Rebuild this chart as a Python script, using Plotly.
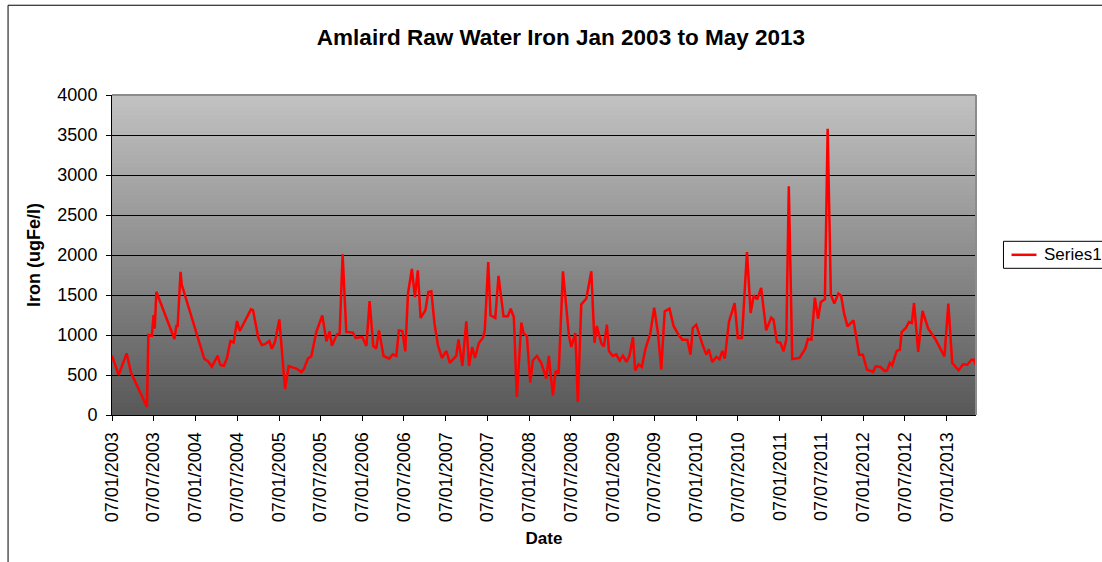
import plotly.graph_objects as go

# ---- data ----
dates = [
    "2003-01-07", "2003-02-05", "2003-03-12", "2003-03-31", "2003-06-09", "2003-06-15",
    "2003-06-30", "2003-07-08", "2003-07-13", "2003-07-20", "2003-10-07", "2003-10-16",
    "2003-10-21", "2003-11-03", "2003-11-08", "2004-02-15", "2004-03-01", "2004-03-19",
    "2004-04-13", "2004-04-25", "2004-05-10", "2004-05-24", "2004-06-08", "2004-06-22",
    "2004-07-07", "2004-07-19", "2004-09-06", "2004-09-15", "2004-10-08", "2004-10-23",
    "2004-11-06", "2004-11-25", "2004-12-06", "2004-12-20", "2005-01-08", "2005-02-02",
    "2005-02-18", "2005-03-24", "2005-04-14", "2005-04-25", "2005-05-13", "2005-05-28",
    "2005-06-19", "2005-07-15", "2005-08-02", "2005-08-16", "2005-08-26", "2005-09-17",
    "2005-09-29", "2005-10-12", "2005-10-28", "2005-11-26", "2005-12-08", "2006-01-06",
    "2006-01-24", "2006-02-07", "2006-02-23", "2006-03-08", "2006-03-20", "2006-04-09",
    "2006-05-03", "2006-05-20", "2006-06-04", "2006-06-15", "2006-06-30", "2006-07-13",
    "2006-07-25", "2006-08-11", "2006-08-24", "2006-09-06", "2006-09-18", "2006-10-09",
    "2006-10-22", "2006-11-04", "2006-11-18", "2006-12-03", "2006-12-20", "2007-01-09",
    "2007-01-24", "2007-02-21", "2007-03-03", "2007-03-20", "2007-04-06", "2007-04-18",
    "2007-05-02", "2007-05-14", "2007-05-31", "2007-06-18", "2007-06-26", "2007-07-11",
    "2007-07-21", "2007-08-11", "2007-08-25", "2007-09-16", "2007-10-05", "2007-10-17",
    "2007-10-31", "2007-11-13", "2007-12-03", "2007-12-13", "2007-12-27", "2008-01-11",
    "2008-01-22", "2008-02-09", "2008-02-28", "2008-03-21", "2008-04-01", "2008-04-19",
    "2008-05-01", "2008-05-14", "2008-06-02", "2008-06-28", "2008-07-08", "2008-07-26",
    "2008-08-06", "2008-08-21", "2008-09-12", "2008-10-04", "2008-10-18", "2008-10-28",
    "2008-11-17", "2008-11-28", "2008-12-11", "2008-12-20", "2009-01-06", "2009-01-21",
    "2009-02-05", "2009-02-19", "2009-03-07", "2009-03-20", "2009-04-04", "2009-04-14",
    "2009-04-29", "2009-05-13", "2009-05-29", "2009-06-19", "2009-07-06", "2009-07-22",
    "2009-08-06", "2009-08-21", "2009-09-11", "2009-09-29", "2009-10-22", "2009-11-06",
    "2009-11-28", "2009-12-12", "2009-12-22", "2010-01-06", "2010-02-01", "2010-02-19",
    "2010-03-02", "2010-03-17", "2010-04-04", "2010-04-18", "2010-04-30", "2010-05-11",
    "2010-05-29", "2010-06-23", "2010-07-07", "2010-07-25", "2010-08-16", "2010-09-01",
    "2010-09-15", "2010-09-30", "2010-10-17", "2010-11-08", "2010-11-30", "2010-12-10",
    "2010-12-25", "2011-01-09", "2011-01-23", "2011-02-04", "2011-02-15", "2011-03-02",
    "2011-04-03", "2011-04-21", "2011-04-28", "2011-05-10", "2011-05-25", "2011-06-09",
    "2011-06-23", "2011-07-05", "2011-07-23", "2011-08-04", "2011-08-18", "2011-09-02",
    "2011-09-20", "2011-10-02", "2011-10-15", "2011-10-30", "2011-11-25", "2011-12-20",
    "2012-01-05", "2012-01-23", "2012-02-18", "2012-03-01", "2012-03-22", "2012-04-10",
    "2012-04-20", "2012-05-02", "2012-05-12", "2012-06-01", "2012-06-15", "2012-06-23",
    "2012-07-11", "2012-07-25", "2012-08-06", "2012-08-16", "2012-09-03", "2012-09-22",
    "2012-10-17", "2012-11-16", "2012-12-05", "2012-12-27", "2013-01-13", "2013-01-30",
    "2013-02-27", "2013-03-18", "2013-04-06", "2013-04-24", "2013-05-05", "2013-05-14",
]
iron = [
    740, 500, 770, 530, 100, 1000,
    990, 1250, 1080, 1540, 950, 1125,
    1100, 1790, 1630, 700, 675, 605,
    740, 625, 615, 710, 925, 905,
    1175, 1050, 1320, 1310, 965, 875,
    885, 925, 830, 915, 1195, 325,
    610, 580, 537, 570, 705, 733,
    1040, 1245, 920, 1045, 865, 1008,
    1017, 2008, 1038, 1030, 963, 975,
    863, 1425, 863, 830, 1058, 738,
    704, 758, 738, 1058, 1050, 796,
    1517, 1825, 1475, 1808, 1213, 1308,
    1538, 1546, 1142, 871, 713, 800,
    652, 738, 946, 613, 1171, 613,
    850, 713, 900, 967, 1058, 1913,
    1246, 1213, 1738, 1233, 1233, 1329,
    1225, 225, 1154, 1017, 988, 404,
    683, 738, 650, 454, 738, 246,
    550, 517, 1796, 996, 850, 1025,
    163, 1383, 1454, 1796, 900, 1113,
    892, 858, 1129, 800, 738, 758,
    680, 742, 663, 740, 975, 558,
    633, 600, 829, 1017, 1342, 1038,
    571, 1296, 1329, 1113, 996, 942,
    942, 754, 1088, 1129, 892, 754,
    821, 663, 725, 696, 800, 704,
    1163, 1400, 963, 963, 2038, 1275,
    1496, 1446, 1588, 1058, 1217, 1192,
    913, 904, 796, 946, 2858, 700,
    713, 808, 829, 954, 942, 1467,
    1204, 1413, 1446, 3579, 1504, 1392,
    1517, 1488, 1267, 1108, 1183, 754,
    754, 567, 538, 608, 600, 550,
    558, 650, 621, 800, 817, 1038,
    1088, 1163, 1150, 1400, 788, 1300,
    1079, 954, 850, 733, 1392, 650,
    558, 633, 629, 692, 692, 621,
]
series_name = "Series1"
title_text = "Amlaird Raw Water Iron Jan 2003 to May 2013"
x_title = "Date"
y_title = "Iron (ugFe/l)"
y_ticks = [0, 500, 1000, 1500, 2000, 2500, 3000, 3500, 4000]

FONT = "Liberation Sans, Arial, sans-serif"
LINE_COLOR = "#FF0000"

fig = go.Figure()
fig.add_trace(go.Scatter(
    x=dates, y=iron, mode="lines", name=series_name,
    line=dict(color=LINE_COLOR, width=2.5),
    showlegend=False,
))

shapes = []
# gradient background of the plot area (light top -> dark bottom)
n_bands = 80
top_c = (194, 194, 194)
bot_c = (88, 88, 88)
for i in range(n_bands):
    t = (i + 0.5) / n_bands
    c = tuple(round(bot_c[k] + (top_c[k] - bot_c[k]) * t) for k in range(3))
    shapes.append(dict(
        type="rect", xref="paper", yref="paper",
        x0=0, x1=1, y0=i / n_bands, y1=(i + 1) / n_bands + 0.002,
        fillcolor="rgb(%d,%d,%d)" % c, line=dict(width=0), layer="below",
    ))
# grey plot-area border (top and right)
shapes.append(dict(type="line", xref="paper", yref="paper", x0=0, x1=1, y0=1, y1=1,
                   line=dict(color="#8C8C8C", width=2), layer="above"))
shapes.append(dict(type="line", xref="paper", yref="paper", x0=1, x1=1, y0=0, y1=1,
                   line=dict(color="#8C8C8C", width=2), layer="above"))
# outer chart frame
shapes.append(dict(type="rect", xref="paper", yref="paper",
                   x0=-0.1203, x1=1.3, y0=-0.6, y1=1.2805,
                   line=dict(color="black", width=1), fillcolor="rgba(0,0,0,0)", layer="below"))
# legend box (extends past the right edge like the reference) and its line sample
shapes.append(dict(type="rect", xref="paper", yref="paper",
                   x0=1.0318, x1=1.25, y0=0.4584, y1=0.5428,
                   line=dict(color="black", width=1), fillcolor="white", layer="above"))
shapes.append(dict(type="line", xref="paper", yref="paper",
                   x0=1.0411, x1=1.0700, y0=0.5006, y1=0.5006,
                   line=dict(color=LINE_COLOR, width=2.5), layer="above"))

annotations = [dict(
    text=series_name, xref="paper", yref="paper", x=1.0769, y=0.5006,
    xanchor="left", yanchor="middle", showarrow=False,
    font=dict(family=FONT, size=17, color="black"),
)]

fig.update_layout(
    width=1102, height=562,
    margin=dict(l=112, r=125.5, t=95, b=147, pad=0),
    paper_bgcolor="white",
    plot_bgcolor="rgba(0,0,0,0)",
    font=dict(family=FONT, size=17, color="black"),
    title=dict(text="<b>%s</b>" % title_text, x=0.509, xref="container", xanchor="center",
               y=1 - 37 / 562, yref="container", yanchor="middle",
               font=dict(family=FONT, size=22.5, color="black")),
    shapes=shapes,
    annotations=annotations,
    showlegend=False,
    xaxis=dict(
        type="date",
        range=["2003-01-07", "2013-05-14"],
        tick0="2003-01-07", dtick="M6", tickformat="%d/%m/%Y",
        tickangle=-90, ticks="outside", ticklen=5, tickcolor="black",
        showgrid=False, zeroline=False,
        showline=True, linecolor="black", linewidth=1,
        tickfont=dict(family=FONT, size=18, color="black"),
        ticklabelstandoff=4,
        title=dict(text="<b>%s</b>" % x_title, standoff=10,
                   font=dict(family=FONT, size=17, color="black")),
    ),
    yaxis=dict(
        range=[0, 4000], tickvals=y_ticks,
        ticks="outside", ticklen=5, tickcolor="black",
        showgrid=True, gridcolor="black", gridwidth=1,
        zeroline=False, showline=True, linecolor="black", linewidth=1,
        tickfont=dict(family=FONT, size=18, color="black"),
        ticklabelstandoff=5,
        title=dict(text="<b>%s</b>" % y_title, standoff=12,
                   font=dict(family=FONT, size=18, color="black")),
    ),
)

fig.write_html("out.html", config={"displayModeBar": False},
               post_script="document.body.style.margin='0';")
